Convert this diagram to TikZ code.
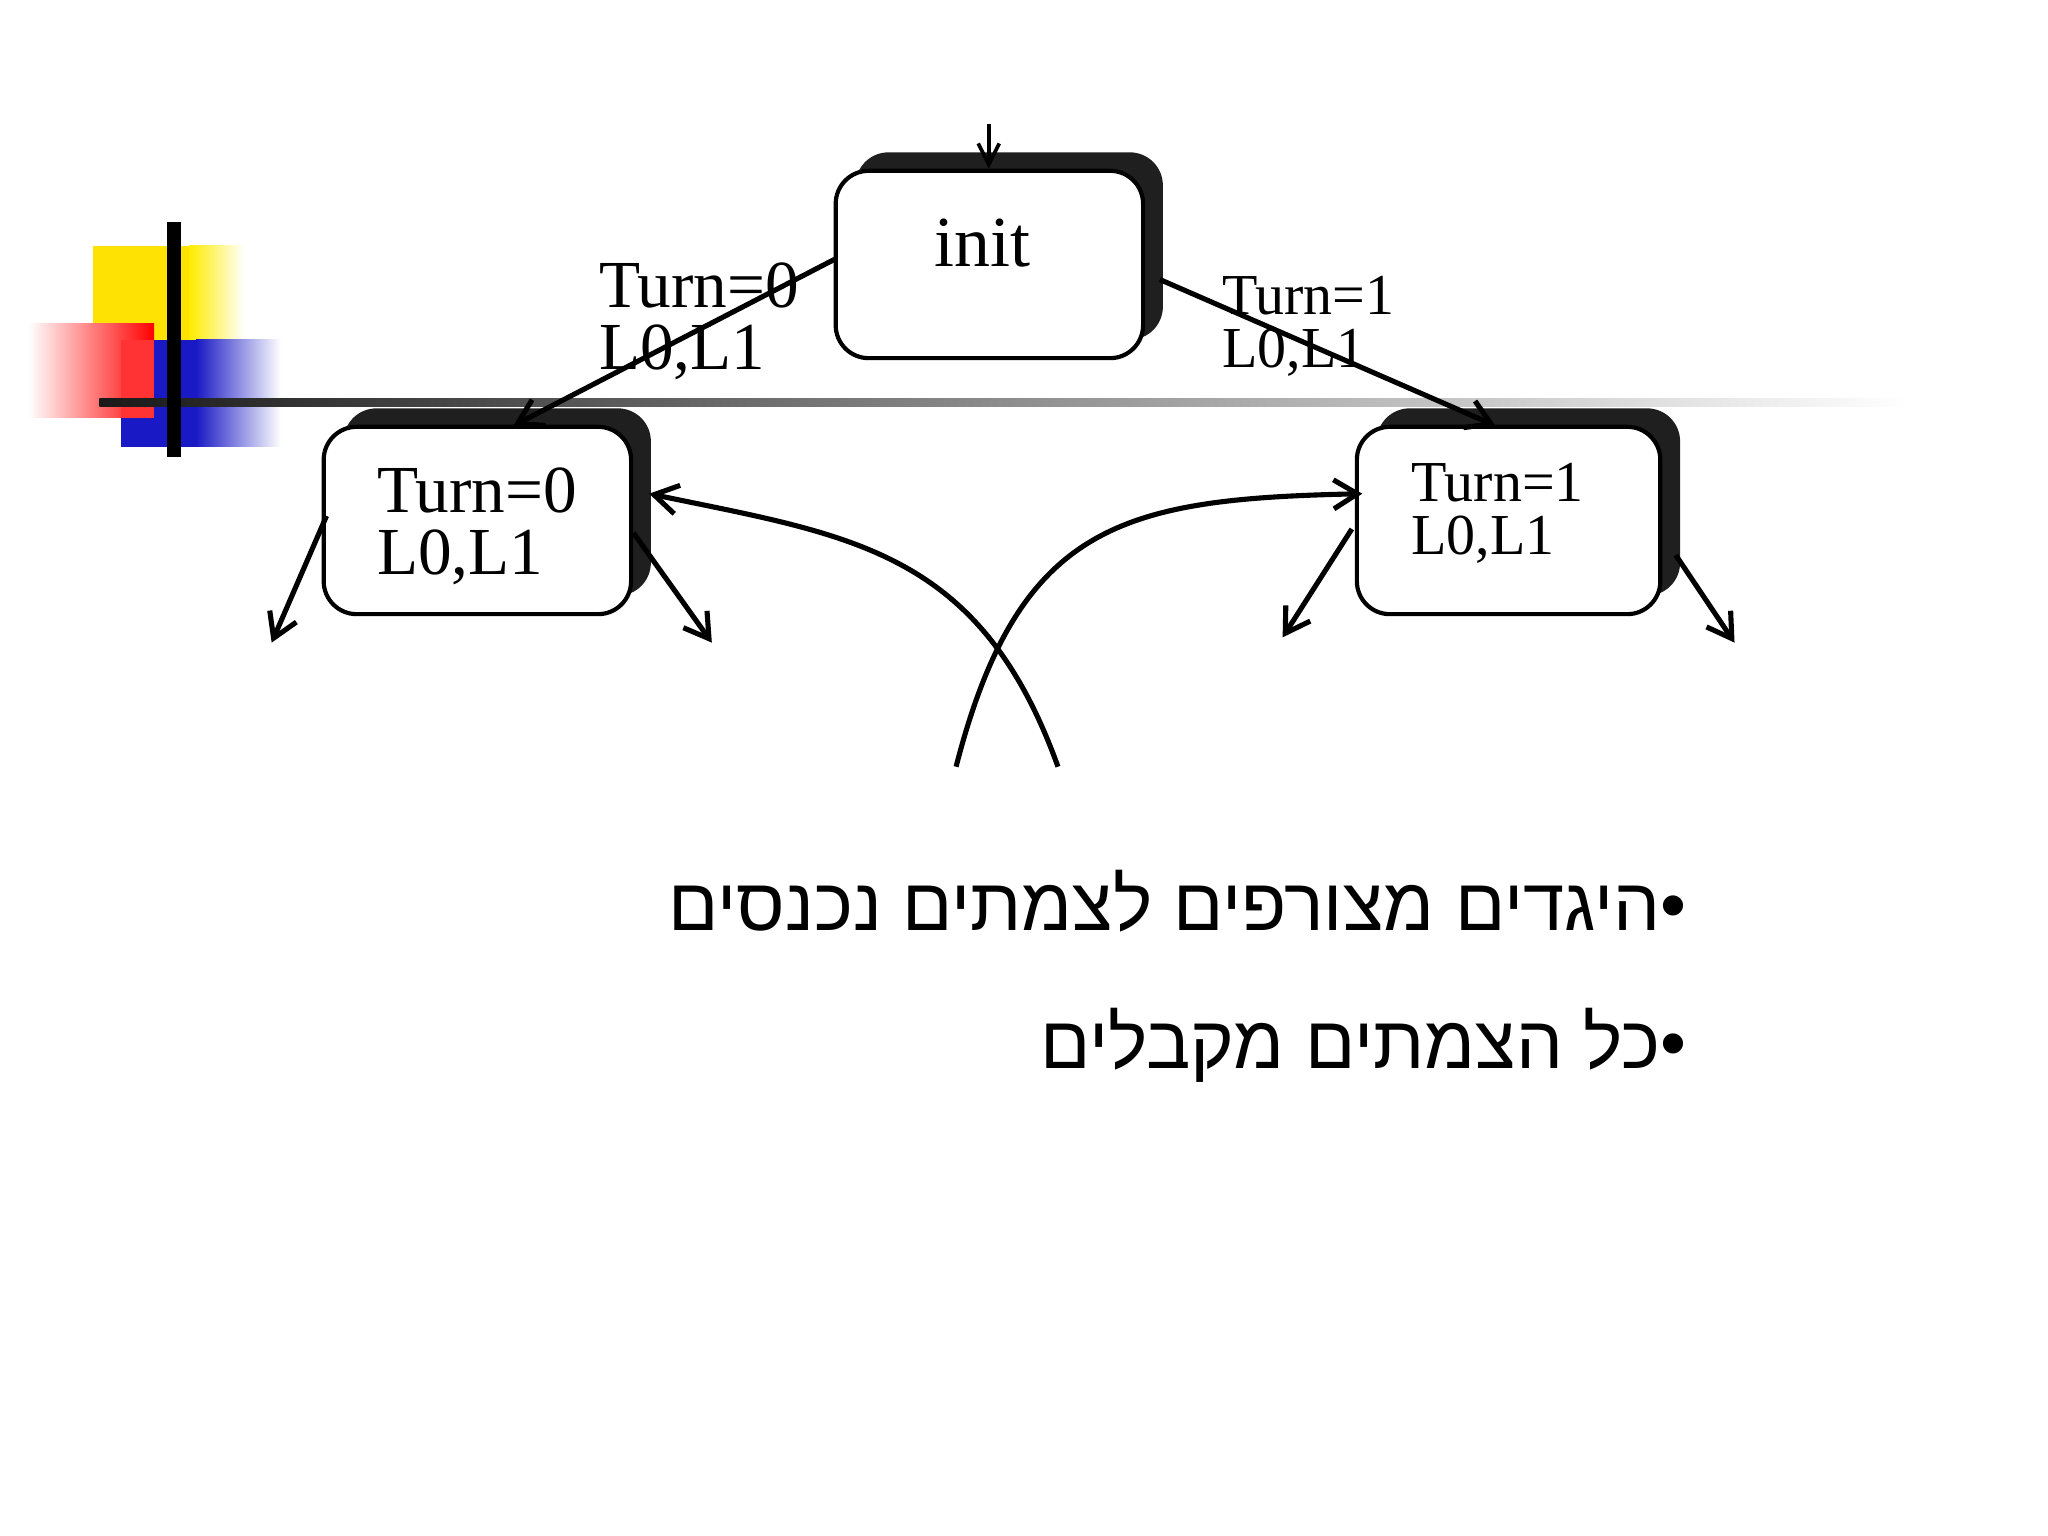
\documentclass[tikz,border=0pt]{standalone}
\usepackage{fontspec}
\setmainfont{Liberation Serif}
\newfontfamily\hebfont[Script=Hebrew]{Liberation Sans}
\TeXXeTstate=1
\usetikzlibrary{shadows,arrows.meta}
\begin{document}
\begin{tikzpicture}[x=0.99cm,y=0.99cm,
  state/.style={draw=black, line width=0.9pt, fill=white, rounded corners=0.25cm, minimum width=2.33cm, minimum height=1.42cm, inner sep=0pt,
    drop shadow={shadow xshift=0.15cm, shadow yshift=0.14cm, fill=black!88, opacity=1}},
  lbl/.style={inner sep=0pt, anchor=west, align=left, font=\fontsize{14.5}{13.5}\selectfont},
  arr/.style={line width=1.1pt, -{Straight Barb[length=1.8mm,width=2.2mm]}},
  heb/.style={inner sep=0pt, anchor=east, font=\hebfont\fontsize{16}{20}\selectfont}]
\useasboundingbox (0,0) rectangle (15.68,-11.76);
% decoration
\fill[yellow!85!orange] (0.71,-1.88) rectangle (1.45,-3.0);
\shade[left color=yellow!85!orange, right color=white] (1.45,-1.88) rectangle (1.87,-3.0);
\shade[left color=white, right color=red] (0.22,-2.48) rectangle (1.18,-3.20);
\fill[blue!75!black!90] (1.18,-2.60) rectangle (1.50,-3.42);
\fill[blue!75!black!90] (0.93,-3.20) rectangle (1.18,-3.42);
\shade[left color=blue!75!black!90, right color=white] (1.50,-2.60) rectangle (2.15,-3.42);
\fill[red!80] (0.93,-2.60) rectangle (1.18,-3.20);
\shade[left color=black!90, right color=white] (0.76,-3.05) rectangle (14.6,-3.11);
\draw[line width=3pt] (1.33,-1.70) -- (1.33,-3.50);
% states
\node[state] (init) at (7.575,-2.025) {};
\node[state] (s0) at (3.655,-3.985) {};
\node[state, minimum width=2.30cm] (s1) at (11.55,-3.985) {};
\node[inner sep=0pt, font=\fontsize{15.5}{18}\selectfont] (tinit) at (7.52,-1.86) {init};
\node[lbl] (t0) at (2.88,-4.03) {Turn=0\\L0,L1};
\node[lbl, font=\fontsize{12.5}{11.5}\selectfont] (t1) at (10.80,-3.93) {Turn=1\\L0,L1};
\node[lbl] (e0) at (4.58,-2.46) {Turn=0\\L0,L1};
\node[lbl, font=\fontsize{12.5}{11.5}\selectfont] (e1) at (9.35,-2.50) {Turn=1\\L0,L1};
% edges
\coordinate (top) at (7.57,-0.95);
\draw[line width=0.8pt, -{Straight Barb[length=1.6mm,width=1.6mm]}] (top) -- (init.north -| top);
\coordinate (a0) at (6.40,-1.98);
\coordinate (b0) at (3.93,-3.26);
\draw[arr] (a0) -- (b0);
\coordinate (a1) at (8.88,-2.14);
\coordinate (b1) at (11.45,-3.26);
\draw[arr] (a1) -- (b1);
\coordinate (l1) at (2.50,-3.95); \coordinate (l2) at (2.08,-4.92);
\coordinate (l3) at (4.85,-4.08); \coordinate (l4) at (5.45,-4.92);
\coordinate (r1) at (10.35,-4.05); \coordinate (r2) at (9.82,-4.88);
\coordinate (r3) at (12.83,-4.25); \coordinate (r4) at (13.28,-4.92);
\draw[arr] (l1) -- (l2);
\draw[arr] (l3) -- (l4);
\draw[arr] (r1) -- (r2);
\draw[arr] (r3) -- (r4);
\coordinate (c1) at (8.10,-5.87);
\coordinate (c2) at (7.32,-5.87);
\coordinate (d1) at (4.97,-3.78);
\coordinate (d2) at (10.43,-3.78);
\draw[arr] (c1) .. controls (7.50,-4.20) and (6.50,-4.10) .. (d1);
\draw[arr] (c2) .. controls (7.80,-4.00) and (8.60,-3.82) .. (d2);
% text
\node[heb] (h1) at (12.92,-6.90) {\beginR •היגדים מצורפים לצמתים נכנסים\endR};
\node[heb] (h2) at (12.92,-8.00) {\beginR •כל הצמתים מקבלים\endR};
\end{tikzpicture}
\end{document}
